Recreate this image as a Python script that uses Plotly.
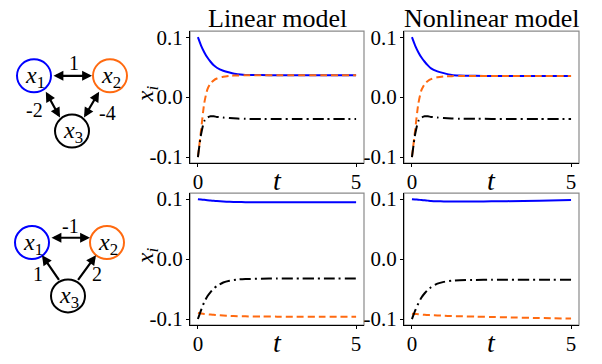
import plotly.graph_objects as go

W, H = 602, 364

# ---------------- data ----------------
t = [0, 0.1, 0.2, 0.3, 0.4, 0.5, 0.6, 0.8, 1.0, 1.25, 1.5, 2.0, 2.5, 3.0, 4.0, 5.0]

# top row (graph 1)
lin1_x1 = [0.100, 0.086, 0.075, 0.066, 0.059, 0.053, 0.049, 0.044, 0.041, 0.038, 0.037, 0.0367, 0.0366, 0.0366, 0.0366, 0.0366]
lin1_x2 = [-0.100, -0.055, -0.010, 0.013, 0.023, 0.028, 0.031, 0.034, 0.0355, 0.0362, 0.0365, 0.0366, 0.0366, 0.0366, 0.0366, 0.0366]
lin1_x3 = [-0.100, -0.062, -0.040, -0.034, -0.032, -0.032, -0.033, -0.034, -0.035, -0.0358, -0.0362, -0.0365, -0.0366, -0.0366, -0.0366, -0.0366]
non1_x1 = [0.100, 0.086, 0.075, 0.066, 0.059, 0.053, 0.048, 0.043, 0.040, 0.037, 0.036, 0.0355, 0.0353, 0.0352, 0.0352, 0.0352]
non1_x2 = [-0.100, -0.055, -0.011, 0.012, 0.022, 0.027, 0.030, 0.033, 0.0345, 0.0350, 0.0352, 0.0352, 0.0352, 0.0352, 0.0352, 0.0352]
non1_x3 = [-0.100, -0.062, -0.040, -0.034, -0.032, -0.032, -0.033, -0.034, -0.035, -0.0357, -0.0360, -0.0362, -0.0363, -0.0363, -0.0363, -0.0363]

# bottom row (graph 2)
lin2_x1 = [0.100, 0.0994, 0.0988, 0.0982, 0.0977, 0.0972, 0.0968, 0.0961, 0.0956, 0.0952, 0.0949, 0.0947, 0.0946, 0.0946, 0.0946, 0.0946]
lin2_x2 = [-0.090, -0.0908, -0.0915, -0.092, -0.0926, -0.093, -0.0935, -0.0942, -0.0947, -0.0952, -0.0955, -0.0958, -0.096, -0.0961, -0.0962, -0.0962]
lin2_x3 = [-0.100, -0.085, -0.072, -0.062, -0.055, -0.049, -0.045, -0.039, -0.036, -0.034, -0.0333, -0.0326, -0.0324, -0.0324, -0.0324, -0.0324]
non2_x1 = [0.100, 0.0995, 0.099, 0.0985, 0.098, 0.0975, 0.097, 0.0965, 0.0962, 0.096, 0.096, 0.0961, 0.0963, 0.0966, 0.0975, 0.0984]
non2_x2 = [-0.091, -0.0915, -0.092, -0.0925, -0.093, -0.0933, -0.0936, -0.094, -0.0945, -0.095, -0.0953, -0.096, -0.0966, -0.0972, -0.0983, -0.0993]
non2_x3 = [-0.100, -0.086, -0.074, -0.064, -0.057, -0.051, -0.047, -0.041, -0.038, -0.036, -0.0352, -0.0347, -0.0345, -0.0345, -0.0345, -0.0345]

ytick_vals = [-0.1, 0.0, 0.1]
ytick_text = ["-0.1", "0.0", "0.1"]
xtick_vals = [0, 5]
xtick_text = ["0", "5"]
titles = ["Linear model", "Nonlinear model"]

BLUE = "#0000ff"
ORANGE = "#ff6a10"
BLACK = "#000000"
SERIF = "Liberation Serif, DejaVu Serif, serif"

# ---------------- layout geometry (pixels) ----------------
cols = [(190, 364), (404, 579)]
rows = [(27, 163), (194, 330)]


def px_x(a, b):
    return [a / W, b / W]


def px_y(top, bot):
    return [1 - bot / H, 1 - top / H]


fig = go.Figure()
panels = [
    (0, 0, lin1_x1, lin1_x2, lin1_x3),
    (0, 1, non1_x1, non1_x2, non1_x3),
    (1, 0, lin2_x1, lin2_x2, lin2_x3),
    (1, 1, non2_x1, non2_x2, non2_x3),
]

shapes = []
annotations = []


def ann(**kw):
    d = dict(showarrow=False, xanchor="center", yanchor="middle")
    d.update(kw)
    annotations.append(d)


for k, (r, c, s1, s2, s3) in enumerate(panels):
    idx = k + 1
    xa = "x" if idx == 1 else f"x{idx}"
    ya = "y" if idx == 1 else f"y{idx}"
    for ys, col, dash in [(s1, BLUE, "solid"), (s2, ORANGE, "7px,4px"), (s3, BLACK, "11px,4px,2px,4px")]:
        fig.add_trace(go.Scatter(x=t, y=ys, mode="lines", xaxis=xa, yaxis=ya,
                                 line=dict(color=col, width=2, dash=dash, shape="spline", smoothing=0.6),
                                 showlegend=False, hoverinfo="skip"))
    axx = dict(domain=px_x(*cols[c]), range=[-0.25, 5.25], anchor=ya,
               showgrid=False, zeroline=False, showline=True, linecolor="black", linewidth=1.2,
               ticks="outside", ticklen=3, tickwidth=1, tickcolor="black",
               tickvals=xtick_vals, ticktext=xtick_text, ticklabelstandoff=-3,
               tickfont=dict(family=SERIF, size=21, color="black"))
    axy = dict(domain=px_y(*rows[r]), range=[-0.11, 0.11], anchor=xa,
               showgrid=False, zeroline=False, showline=True, linecolor="black", linewidth=1.2,
               ticks="outside", ticklen=3, tickwidth=1, tickcolor="black",
               tickvals=ytick_vals, ticktext=ytick_text, ticklabelstandoff=-1,
               tickfont=dict(family=SERIF, size=21, color="black"))
    fig.update_layout(**{("xaxis" if idx == 1 else f"xaxis{idx}"): axx,
                         ("yaxis" if idx == 1 else f"yaxis{idx}"): axy})
    # gray top/right frame
    shapes.append(dict(type="rect", xref=f"{xa} domain", yref=f"{ya} domain",
                       x0=0, x1=1, y0=0, y1=1, line=dict(color="#8a8a8a", width=1.2), layer="below"))
    # t label
    ann(text="<i>t</i>", xref="paper", yref="paper",
        x=(cols[c][0] + cols[c][1]) / 2 / W, y=1 - (rows[r][1] + 18) / H,
        font=dict(family=SERIF, size=28, color="black"))
    if c == 0:
        ann(text="<i>x</i><sub><i>i</i></sub>", xref="paper", yref="paper",
            x=147 / W, y=1 - ((rows[r][0] + rows[r][1]) / 2 - 3) / H, textangle=-90,
            font=dict(family=SERIF, size=24, color="black"))
    if r == 0:
        ann(text=titles[c], xref="paper", yref="paper",
            x=(cols[c][0] + cols[c][1]) / 2 / W, y=1 - 14 / H,
            font=dict(family=SERIF, size=26, color="black"))

# ---------------- network diagrams (pixel-unit axes) ----------------
fig.update_layout(
    xaxis5=dict(domain=[0, 150 / W], range=[0, 150], visible=False, fixedrange=True),
    yaxis5=dict(domain=[0, 1], range=[H, 0], visible=False, fixedrange=True, anchor="x5"),
)
fig.add_trace(go.Scatter(x=[0], y=[0], xaxis="x5", yaxis="y5", mode="markers",
                         marker=dict(opacity=0), showlegend=False, hoverinfo="skip"))

nodes_top = {"1": (34, 73, BLUE), "2": (110, 73, ORANGE), "3": (72, 130, BLACK)}
nodes_bot = {"1": (32, 245, BLUE), "2": (107, 245, ORANGE), "3": (68, 300, BLACK)}
R = 17
for nodes in (nodes_top, nodes_bot):
    for name, (cx, cy, col) in nodes.items():
        shapes.append(dict(type="circle", xref="x5", yref="y5", x0=cx - R, x1=cx + R,
                           y0=cy - R, y1=cy + R, line=dict(color=col, width=2)))
        ann(text=f"<i>x</i><sub>{name}</sub>", xref="x5", yref="y5",
            x=cx + 1, y=cy + 1, font=dict(family=SERIF, size=24, color="black"))

# arrows: (x_tail, y_tail, x_head, y_head, both)
arrows = [
    (52, 73, 92, 73, True), (45, 88, 60, 116, True), (100, 88, 84, 116, True),
    (50, 240, 90, 240, True), (60, 285, 42, 258, False), (77, 285, 96, 258, False),
]
for x0, y0, x1, y1, both in arrows:
    annotations.append(dict(x=x1, y=y1, ax=x0, ay=y0, xref="x5", yref="y5", axref="x5", ayref="y5",
                            text="", showarrow=True, arrowhead=2, arrowsize=0.9, arrowwidth=2.2,
                            arrowcolor="black", arrowside="end+start" if both else "end",
                            startarrowhead=2, startarrowsize=0.9))

edge_labels = [("1", 74, 60), ("-2", 34, 108), ("-4", 107, 111),
               ("-1", 70, 228), ("1", 38, 277), ("2", 97, 277)]
for txt, x, y in edge_labels:
    ann(text=txt, xref="x5", yref="y5", x=x, y=y,
        font=dict(family=SERIF, size=20, color="black"))

fig.update_layout(width=W, height=H, margin=dict(l=0, r=0, t=0, b=0),
                  paper_bgcolor="white", plot_bgcolor="white",
                  shapes=shapes, annotations=annotations, showlegend=False)

fig.write_html("out.html")
